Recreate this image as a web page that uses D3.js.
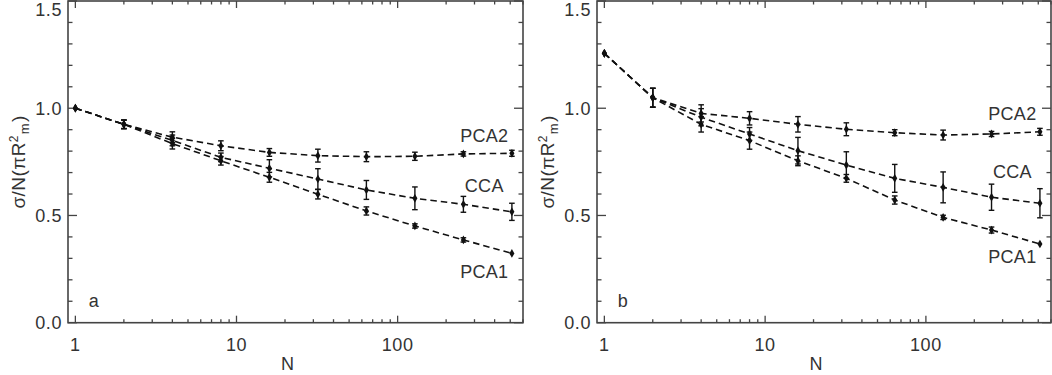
<!DOCTYPE html>
<html><head><meta charset="utf-8">
<script src="https://cdn.jsdelivr.net/npm/d3@7"></script>
<style>body{margin:0;background:#fff}svg{display:block}</style>
</head><body><svg id="c" width="1052" height="375"></svg>
<script>
// ---- data ----
const N = [1, 2, 4, 8, 16, 32, 64, 128, 256, 512];
const seriesNames = ["PCA1", "CCA", "PCA2"];
const yTickLabels = ["0.0", "0.5", "1.0", "1.5"];
const xTickLabels = ["1", "10", "100"];
const panelLetters = ["a", "b"];

const aPCA1    = [1.000, 0.925, 0.835, 0.755, 0.678, 0.599, 0.521, 0.451, 0.386, 0.323];
const aPCA1Err = [0, 0.020, 0.025, 0.020, 0.023, 0.022, 0.019, 0.010, 0.010, 0];
const aCCA     = [1.000, 0.925, 0.850, 0.771, 0.720, 0.670, 0.619, 0.580, 0.552, 0.517];
const aCCAErr  = [0, 0.020, 0.025, 0.020, 0.040, 0.048, 0.044, 0.053, 0.037, 0.040];
const aPCA2    = [1.000, 0.925, 0.865, 0.825, 0.794, 0.779, 0.774, 0.776, 0.787, 0.790];
const aPCA2Err = [0, 0.020, 0.025, 0.023, 0.018, 0.030, 0.023, 0.019, 0.010, 0.014];

const bPCA1    = [1.256, 1.049, 0.925, 0.849, 0.755, 0.673, 0.572, 0.491, 0.432, 0.367];
const bPCA1Err = [0, 0.044, 0.036, 0.040, 0.023, 0.018, 0.019, 0.010, 0.014, 0];
const bCCA     = [1.256, 1.049, 0.958, 0.880, 0.802, 0.735, 0.673, 0.631, 0.585, 0.557];
const bCCAErr  = [0, 0.044, 0.040, 0.030, 0.062, 0.062, 0.065, 0.072, 0.061, 0.068];
const bPCA2    = [1.256, 1.049, 0.976, 0.953, 0.925, 0.902, 0.886, 0.875, 0.880, 0.890];
const bPCA2Err = [0, 0.044, 0.040, 0.031, 0.036, 0.030, 0.014, 0.023, 0.012, 0.016];

// ---- layout ----
const svg = d3.select("#c");
const font = "'Liberation Sans', Arial, sans-serif";
const panels = [
  {x0: 68, x1: 523, vals: [aPCA1, aCCA, aPCA2], errs: [aPCA1Err, aCCAErr, aPCA2Err],
   labelPos: [[345, 0.208], [345, 0.608], [345, 0.842]]},
  {x0: 597, x1: 1051, vals: [bPCA1, bCCA, bPCA2], errs: [bPCA1Err, bCCAErr, bPCA2Err],
   labelPos: [[345, 0.278], [345, 0.675], [345, 0.945]]}
];
const yTop = 1, yBot = 322.7;
const frameColor = "#444";
const ink = "#111";
const textColor = "#333";

panels.forEach((p, pi) => {
  const x = d3.scaleLog().domain([0.9, 600]).range([p.x0, p.x1]);
  const y = d3.scaleLinear().domain([0, 1.5]).range([yBot, yTop]);
  const g = svg.append("g");

  // frame
  g.append("rect").attr("x", p.x0).attr("y", yTop).attr("width", p.x1 - p.x0).attr("height", yBot - yTop)
    .attr("fill", "none").attr("stroke", frameColor).attr("stroke-width", 1.6);

  // y ticks
  const yt = d3.range(0, 16).map(i => i / 10);
  yt.forEach(v => {
    const major = Math.abs(v * 2 - Math.round(v * 2)) < 1e-6;
    const len = major ? 9 : 4.5;
    g.append("line").attr("x1", p.x0).attr("x2", p.x0 + len).attr("y1", y(v)).attr("y2", y(v))
      .attr("stroke", frameColor).attr("stroke-width", 1.3);
    g.append("line").attr("x1", p.x1).attr("x2", p.x1 - len).attr("y1", y(v)).attr("y2", y(v))
      .attr("stroke", frameColor).attr("stroke-width", 1.3);
  });
  yTickLabels.forEach(t => {
    const v = +t;
    g.append("text").attr("x", p.x0 - 6).attr("y", Math.max(y(v), 10)).attr("dy", "0.36em")
      .attr("text-anchor", "end").attr("font-family", font).attr("font-size", 18)
      .attr("letter-spacing", 0.6).attr("fill", textColor).text(t);
  });

  // x ticks
  const xt = [];
  [1, 10, 100].forEach(d => { for (let k = 1; k <= 9; k++) if (d * k <= 600) xt.push(d * k); });
  xt.forEach(v => {
    const major = [1, 10, 100].includes(v);
    const len = major ? 7 : 3.5;
    g.append("line").attr("x1", x(v)).attr("x2", x(v)).attr("y1", yBot).attr("y2", yBot - len)
      .attr("stroke", frameColor).attr("stroke-width", 1.3);
    g.append("line").attr("x1", x(v)).attr("x2", x(v)).attr("y1", yTop).attr("y2", yTop + len)
      .attr("stroke", frameColor).attr("stroke-width", 1.3);
  });
  xTickLabels.forEach(t => {
    g.append("text").attr("x", x(+t)).attr("y", 351).attr("text-anchor", "middle")
      .attr("font-family", font).attr("font-size", 18).attr("letter-spacing", 0.6)
      .attr("fill", textColor).text(t);
  });

  // axis titles
  g.append("text").attr("x", (p.x0 + p.x1) / 2 - 8).attr("y", 370).attr("text-anchor", "middle")
    .attr("font-family", font).attr("font-size", 18).attr("fill", textColor).text("N");
  const yl = g.append("text").attr("transform", `translate(${p.x0 - 43},${(yTop + yBot) / 2}) rotate(-90)`)
    .attr("text-anchor", "middle").attr("font-family", font).attr("font-size", 19)
    .attr("letter-spacing", 0.4).attr("fill", textColor);
  yl.append("tspan").text("σ/N(πR");
  yl.append("tspan").attr("dy", -7).attr("font-size", 12).text("2");
  yl.append("tspan").attr("dy", 11).attr("dx", 1).attr("font-size", 13).text("m");
  yl.append("tspan").attr("dy", -4).attr("dx", 1).text(")");

  // panel letter
  g.append("text").attr("x", x(1.3)).attr("y", y(0.073)).attr("text-anchor", "middle")
    .attr("font-family", font).attr("font-size", 18).attr("fill", textColor).text(panelLetters[pi]);

  // series
  const line = d3.line().x((d, i) => x(N[i])).y(d => y(d));
  p.vals.forEach((vals, si) => {
    const errs = p.errs[si];
    g.append("path").attr("d", line(vals)).attr("fill", "none").attr("stroke", ink)
      .attr("stroke-width", 1.6).attr("stroke-dasharray", "6.5,4");
    vals.forEach((v, i) => {
      const e = errs[i];
      if (e > 0) {
        const cx = x(N[i]);
        g.append("line").attr("x1", cx).attr("x2", cx).attr("y1", y(v - e)).attr("y2", y(v + e))
          .attr("stroke", ink).attr("stroke-width", 1.4);
        [v - e, v + e].forEach(w => g.append("line").attr("x1", cx - 2.8).attr("x2", cx + 2.8)
          .attr("y1", y(w)).attr("y2", y(w)).attr("stroke", ink).attr("stroke-width", 1.4));
      }
      g.append("path").attr("d", d3.symbol(d3.symbolDiamond, 22)()).attr("transform", `translate(${x(N[i])},${y(v)})`)
        .attr("fill", ink);
    });
    const lp = p.labelPos[si];
    g.append("text").attr("x", x(lp[0])).attr("y", y(lp[1])).attr("text-anchor", "middle")
      .attr("font-family", font).attr("font-size", 18).attr("letter-spacing", 0.3)
      .attr("fill", textColor).text(seriesNames[si]);
  });
});
</script></body></html>
